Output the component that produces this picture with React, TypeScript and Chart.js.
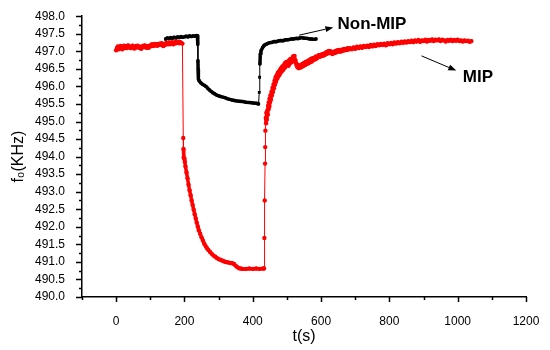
import React, { useEffect, useRef } from "react";
import { Chart, registerables } from "chart.js";

Chart.register(...registerables);

// MIP series (red): [t (s), f0 (kHz)]
const mipData: [number, number][] = [
  [0, 497.03], [3, 497.1], [5, 497.14], [8, 497.06], [10, 497.1], [13, 497.15], [15, 497.1],
  [18, 497.06], [20, 497.12], [23, 497.16], [25, 497.11], [28, 497.14], [30, 497.09],
  [33, 497.15], [35, 497.17], [38, 497.11], [40, 497.14], [43, 497.09], [45, 497.12],
  [48, 497.16], [50, 497.13], [53, 497.08], [55, 497.12], [58, 497.15], [60, 497.11],
  [63, 497.16], [65, 497.14], [68, 497.1], [70, 497.13], [73, 497.07], [75, 497.11],
  [78, 497.15], [80, 497.12], [83, 497.17], [85, 497.14], [88, 497.1], [90, 497.15],
  [93, 497.12], [95, 497.1], [98, 497.16], [100, 497.14], [103, 497.18], [105, 497.2],
  [108, 497.15], [110, 497.18], [113, 497.21], [115, 497.17], [118, 497.2], [120, 497.16],
  [123, 497.21], [125, 497.18], [128, 497.22], [130, 497.19], [133, 497.23], [135, 497.18],
  [138, 497.15], [140, 497.19], [143, 497.22], [145, 497.19], [148, 497.24], [150, 497.21],
  [153, 497.25], [155, 497.2], [158, 497.24], [160, 497.21], [163, 497.26], [165, 497.23],
  [168, 497.2], [170, 497.24], [173, 497.27], [175, 497.23], [178, 497.26], [180, 497.24],
  [183, 497.27], [185, 497.23], [188, 497.26], [190, 497.24], [194, 497.22],
  [196.5, 494.53], [197, 494.22], [198, 493.98], [199, 493.95], [201, 493.85], [203, 493.72],
  [206, 493.55], [209, 493.38], [212, 493.2], [215, 493.04], [218, 492.9], [221, 492.75],
  [224, 492.62], [227, 492.49], [230, 492.36], [233, 492.24], [236, 492.12], [239, 492.01],
  [242, 491.9], [246, 491.8], [250, 491.7], [254, 491.61], [258, 491.52], [262, 491.45],
  [266, 491.39], [270, 491.34], [275, 491.28], [280, 491.23], [285, 491.18], [290, 491.15],
  [295, 491.11], [300, 491.08], [305, 491.06], [310, 491.04], [315, 491.02], [320, 491.0],
  [325, 490.99], [330, 490.98], [335, 490.97], [340, 490.96], [345, 490.94], [350, 490.89],
  [355, 490.85], [360, 490.82], [365, 490.81], [370, 490.8], [380, 490.8], [390, 490.81],
  [400, 490.8], [410, 490.81], [420, 490.8], [430, 490.81], [433, 490.81],
  [434, 491.68], [435, 492.75], [436, 493.8], [436.5, 494.27], [437, 494.74], [438, 495.1],
  [439, 494.95], [440, 495.25], [441, 495.05], [442, 495.18], [443, 495.32], [444, 495.2],
  [445, 495.45], [446, 495.35], [447, 495.55], [448, 495.42], [449, 495.65], [450, 495.55],
  [452, 495.75], [453, 495.62], [455, 495.85], [456, 495.74], [458, 495.96], [459, 495.84],
  [461, 496.06], [462, 495.95], [464, 496.17], [465, 496.05], [467, 496.26], [468, 496.13],
  [470, 496.32], [471, 496.22], [473, 496.38], [474, 496.28], [476, 496.42], [477, 496.32],
  [479, 496.46], [480, 496.38], [482, 496.51], [484, 496.42], [486, 496.56], [488, 496.46],
  [490, 496.6], [492, 496.52], [494, 496.66], [496, 496.57], [498, 496.7], [500, 496.61],
  [502, 496.7], [504, 496.59], [506, 496.74], [508, 496.65], [510, 496.78], [512, 496.68],
  [514, 496.75], [516, 496.71], [518, 496.85], [520, 496.8], [522, 496.87], [524, 496.75],
  [526, 496.68], [528, 496.61], [530, 496.56], [532, 496.62], [534, 496.52], [536, 496.58],
  [538, 496.53], [540, 496.6], [543, 496.55], [545, 496.64], [548, 496.58], [550, 496.67],
  [553, 496.61], [555, 496.7], [558, 496.64], [560, 496.72], [563, 496.66], [565, 496.75],
  [568, 496.69], [570, 496.78], [573, 496.71], [575, 496.8], [578, 496.75], [580, 496.82],
  [583, 496.77], [585, 496.85], [588, 496.8], [590, 496.84], [593, 496.89], [595, 496.84],
  [598, 496.89], [600, 496.86], [603, 496.92], [605, 496.87], [608, 496.93], [610, 496.89],
  [613, 496.96], [615, 496.92], [618, 496.99], [620, 496.94], [623, 497.01], [625, 496.97],
  [628, 497.0], [630, 496.95], [633, 496.92], [635, 496.96], [638, 496.99], [640, 496.95],
  [643, 497.01], [645, 496.97], [648, 497.03], [650, 496.99], [653, 497.04], [655, 496.99],
  [658, 497.04], [660, 497.0], [663, 497.05], [665, 497.02], [668, 497.07], [670, 497.03],
  [673, 497.07], [675, 497.04], [678, 497.09], [680, 497.05], [685, 497.09], [690, 497.06],
  [695, 497.11], [700, 497.07], [705, 497.13], [710, 497.09], [715, 497.14], [720, 497.1],
  [725, 497.15], [730, 497.12], [735, 497.16], [740, 497.12], [745, 497.18], [750, 497.14],
  [755, 497.19], [760, 497.15], [765, 497.2], [770, 497.17], [775, 497.21], [780, 497.18],
  [785, 497.22], [790, 497.17], [795, 497.23], [800, 497.2], [805, 497.24], [810, 497.2],
  [815, 497.25], [820, 497.22], [825, 497.26], [830, 497.23], [835, 497.27], [840, 497.24],
  [845, 497.28], [850, 497.25], [855, 497.29], [860, 497.26], [865, 497.3], [870, 497.26],
  [875, 497.31], [880, 497.28], [885, 497.32], [890, 497.27], [895, 497.31], [900, 497.29],
  [905, 497.33], [910, 497.28], [915, 497.32], [920, 497.3], [925, 497.34], [930, 497.29],
  [935, 497.33], [940, 497.31], [945, 497.34], [950, 497.29], [955, 497.33], [960, 497.31],
  [965, 497.28], [970, 497.32], [975, 497.3], [980, 497.33], [985, 497.29], [990, 497.32],
  [995, 497.3], [1000, 497.33], [1005, 497.29], [1010, 497.31], [1015, 497.28], [1020, 497.31],
  [1025, 497.29], [1030, 497.3], [1035, 497.27], [1040, 497.29],
];

// Non-MIP series (black): [t (s), f0 (kHz)]
const nonMipData: [number, number][] = [
  [145, 497.35], [150, 497.38], [155, 497.36], [160, 497.39], [165, 497.37], [170, 497.4],
  [175, 497.38], [180, 497.41], [185, 497.39], [190, 497.42], [195, 497.4], [200, 497.41],
  [205, 497.43], [210, 497.41], [215, 497.44], [220, 497.42], [225, 497.44], [230, 497.43],
  [235, 497.45], [238, 497.44],
  [239, 497.2], [239.5, 496.73], [240, 496.49], [240.5, 496.4], [241, 496.21], [243, 496.16],
  [248, 496.1], [253, 496.06], [258, 496.03], [263, 496.0], [268, 495.95], [273, 495.9],
  [278, 495.86], [283, 495.82], [288, 495.79], [293, 495.76], [298, 495.74], [303, 495.72],
  [310, 495.7], [318, 495.68], [325, 495.65], [333, 495.63], [340, 495.61], [350, 495.59],
  [360, 495.58], [370, 495.57], [380, 495.55], [390, 495.54], [400, 495.53], [410, 495.52],
  [417, 495.5],
  [419, 495.83], [420, 496.26], [421, 496.64], [422, 496.92], [424, 497.01], [429, 497.11],
  [432, 497.15], [435, 497.18], [439, 497.2], [443, 497.22], [448, 497.24], [453, 497.25],
  [458, 497.26], [463, 497.28], [468, 497.27], [473, 497.29], [478, 497.3], [483, 497.31],
  [488, 497.3], [493, 497.32], [498, 497.33], [503, 497.33], [508, 497.34], [513, 497.35],
  [518, 497.35], [523, 497.36], [528, 497.37], [533, 497.36], [538, 497.38], [543, 497.39],
  [548, 497.38], [553, 497.37], [558, 497.37], [563, 497.36], [568, 497.35], [573, 497.35],
  [578, 497.34], [585, 497.35],
];

const xMin = -100;
const xMax = 1200;
const yMin = 490;
const yMax = 498;
const xLabelStep = 200;

// Annotations in data coordinates: label, text anchor, arrow start, arrow end
const annotations = [
  { text: "Non-MIP", at: [648, 497.77], from: [536, 497.46], to: [636, 497.68] },
  { text: "MIP", at: [1015, 496.26], from: [894, 496.87], to: [996, 496.45] },
];

const FONT = "'Liberation Sans', Arial, sans-serif";

const ticksAndNotes = {
  id: "ticksAndNotes",
  afterDraw(chart: any) {
    const ctx = chart.ctx;
    const xs = chart.scales.x;
    const ys = chart.scales.y;
    ctx.save();
    ctx.strokeStyle = "#000";
    ctx.lineWidth = 1.5;
    ctx.beginPath();
    for (let v = xMin; v <= xMax; v += 100) {
      const px = Math.round(xs.getPixelForValue(v)) + 0.5;
      const len = v % 200 === 0 ? 5 : 3;
      ctx.moveTo(px, xs.top);
      ctx.lineTo(px, xs.top + len);
    }
    for (let i = 0; i <= (yMax - yMin) * 4; i++) {
      const v = yMin + i * 0.25;
      const py = Math.round(ys.getPixelForValue(v)) + 0.5;
      const len = i % 2 === 0 ? 6 : 3;
      ctx.moveTo(ys.right - len, py);
      ctx.lineTo(ys.right, py);
    }
    ctx.stroke();

    ctx.lineWidth = 1;
    ctx.fillStyle = "#000";
    for (const a of annotations) {
      const x1 = xs.getPixelForValue(a.from[0]);
      const y1 = ys.getPixelForValue(a.from[1]);
      const x2 = xs.getPixelForValue(a.to[0]);
      const y2 = ys.getPixelForValue(a.to[1]);
      const ang = Math.atan2(y2 - y1, x2 - x1);
      const hl = 8;
      const hw = 3;
      const bx = x2 - hl * Math.cos(ang);
      const by = y2 - hl * Math.sin(ang);
      ctx.beginPath();
      ctx.moveTo(x1, y1);
      ctx.lineTo(bx, by);
      ctx.stroke();
      ctx.beginPath();
      ctx.moveTo(x2, y2);
      ctx.lineTo(bx + hw * Math.sin(ang), by - hw * Math.cos(ang));
      ctx.lineTo(bx - hw * Math.sin(ang), by + hw * Math.cos(ang));
      ctx.closePath();
      ctx.fill();

      ctx.font = `bold 17px ${FONT}`;
      ctx.textAlign = "left";
      ctx.textBaseline = "middle";
      ctx.fillText(a.text, xs.getPixelForValue(a.at[0]), ys.getPixelForValue(a.at[1]));
    }
    ctx.restore();
  },
};

export default function App() {
  const ref = useRef<HTMLCanvasElement | null>(null);

  useEffect(() => {
    document.body.style.margin = "0";
    const canvas = ref.current;
    if (!canvas) return;
    const seg = (w: number) => (c: any) =>
      Math.abs(c.p1.parsed.y - c.p0.parsed.y) > 0.3 ? 1 : w;
    const chart = new Chart(canvas, {
      type: "scatter",
      data: {
        datasets: [
          {
            label: "MIP",
            data: mipData.map(([x, y]) => ({ x, y })),
            showLine: true,
            borderColor: "#ff0000",
            backgroundColor: "#ff0000",
            borderWidth: 3.5,
            borderJoinStyle: "round",
            borderCapStyle: "round",
            pointRadius: 2.2,
            pointBorderWidth: 0,
            pointBackgroundColor: "#ff0000",
            segment: { borderWidth: seg(3.5) },
          } as any,
          {
            label: "Non-MIP",
            data: nonMipData.map(([x, y]) => ({ x, y })),
            showLine: true,
            borderColor: "#000000",
            backgroundColor: "#000000",
            borderWidth: 3.5,
            borderJoinStyle: "round",
            borderCapStyle: "round",
            pointRadius: 2,
            pointStyle: "rect",
            pointBorderWidth: 0,
            pointBackgroundColor: "#000000",
            segment: { borderWidth: seg(3.5) },
          } as any,
        ],
      },
      options: {
        responsive: false,
        animation: false,
        layout: { padding: { top: 15, right: 24, left: 0, bottom: 0 } },
        plugins: {
          legend: { display: false },
          tooltip: { enabled: false },
        },
        scales: {
          x: {
            type: "linear",
            min: xMin,
            max: xMax,
            afterFit: (s: any) => {
              s.height = 53;
            },
            grid: { display: false },
            border: { display: true, color: "#000", width: 1.5 },
            ticks: {
              stepSize: 100,
              autoSkip: false,
              maxRotation: 0,
              padding: 9,
              color: "#000",
              font: { family: FONT, size: 12 },
              callback: (v: any) => (Number(v) % xLabelStep === 0 ? String(v) : ""),
            },
            title: {
              display: true,
              text: "t(s)",
              color: "#000",
              font: { family: FONT, size: 16 },
              padding: { top: 0, bottom: 4 },
            },
          },
          y: {
            type: "linear",
            min: yMin,
            max: yMax,
            afterFit: (s: any) => {
              s.width = 82;
            },
            grid: { display: false },
            border: { display: true, color: "#000", width: 1.5 },
            ticks: {
              stepSize: 0.5,
              padding: 9,
              color: "#000",
              font: { family: FONT, size: 12 },
              callback: (v: any) => Number(v).toFixed(1),
            },
            title: {
              display: true,
              text: "f₀(KHz)",
              color: "#000",
              font: { family: FONT, size: 16 },
              padding: { top: 9, bottom: 0 },
            },
          },
        },
      } as any,
      plugins: [ticksAndNotes],
    });
    return () => chart.destroy();
  }, []);

  return (
    <div style={{ width: 550, height: 350 }}>
      <canvas ref={ref} width={550} height={350} style={{ display: "block" }} />
    </div>
  );
}
